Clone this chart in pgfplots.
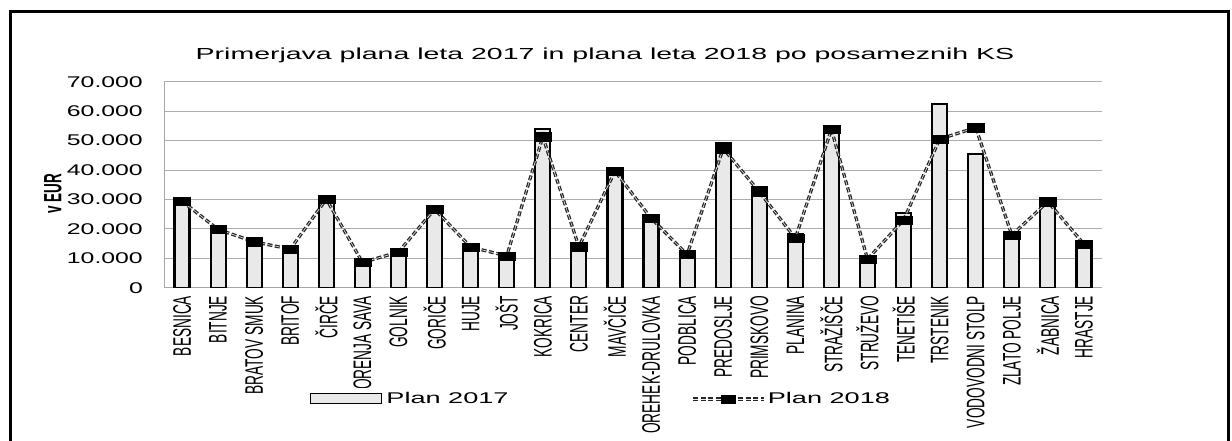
\documentclass[border=0pt]{standalone}
\usepackage{fontspec}
\setmainfont{Liberation Sans}
\usepackage{graphicx}
\usepackage{pgfplots}
\usepackage{pgfplotstable}
\pgfplotsset{compat=1.18}

% plan 2017 (stolpci) in plan 2018 (crta) po KS, v EUR
\pgfplotstableread[col sep=comma]{
idx,p17,p18
0,29000,29400
1,19500,19800
2,15300,15600
3,13000,13100
4,30300,30100
5,8800,8600
6,12200,12100
7,27000,26700
8,14000,13800
9,11000,10800
10,53900,51300
11,14200,13900
12,40500,39600
13,24500,23600
14,11800,11300
15,49200,47300
16,34300,32600
17,18100,16800
18,55000,53800
19,10000,9700
20,25300,23000
21,62400,50500
22,45300,54400
23,18500,17900
24,30000,29200
25,15500,14800
}\plandata

\newcommand\T[1]{\scalebox{1}[1.85]{#1}}
\newcommand\W[1]{\scalebox{1.6}[1]{#1}}
\tikzset{dline/.style={draw=gray!30!black, line width=1.3bp, double=gray!15, double distance=0.6bp,
  dash pattern=on 5bp off 2.5bp}}

\begin{document}
\begin{tikzpicture}
\useasboundingbox (0,0) rectangle (1232bp,441bp);
\clip (0,0) rectangle (1232bp,441bp);
\fill[white] (0,0) rectangle (1232bp,441bp);
\draw[line width=3bp] (10bp,-5bp) -- (10bp,429.3bp) -- (1228.5bp,429.3bp) -- (1228.5bp,-5bp);

\node[anchor=base] at (605bp,381bp)
  {\fontsize{16bp}{18bp}\selectfont\scalebox{1.78}[1]{Primerjava plana leta 2017 in plana leta 2018 po posameznih KS}};
\node[rotate=90] at (53bp,247bp) {\fontsize{13.5bp}{15bp}\selectfont\bfseries\T{v EUR}};

\begin{axis}[
  at={(164bp,153.3bp)}, anchor=south west,
  scale only axis, width=938bp, height=206bp,
  xmin=-0.5, xmax=25.5, ymin=0, ymax=70000,
  axis lines=left, axis line style={-, gray!70, line width=0.8bp},
  major tick length=0pt,
  ymajorgrids, grid style={gray!65, line width=0.8bp},
  ytick={0,10000,...,70000},
  scaled y ticks=false,
  /pgf/number format/.cd, 1000 sep={.}, assume math mode=true, /pgfplots/.cd,
  yticklabel={\W{\pgfmathprintnumber{\tick}}},
  yticklabel shift=21bp,
  yticklabel style={anchor=east, inner sep=0pt, font=\fontsize{15.5bp}{17bp}\selectfont},
  xtick={0,...,25},
  xticklabels={\T{BESNICA},\T{BITNJE},\T{BRATOV SMUK},\T{BRITOF},\T{ČIRČE},
    \T{GORENJA SAVA},\T{GOLNIK},\T{GORIČE},\T{HUJE},\T{JOŠT},\T{KOKRICA},
    \T{CENTER},\T{MAVČIČE},\T{OREHEK-DRULOVKA},\T{PODBLICA},\T{PREDOSLJE},
    \T{PRIMSKOVO},\T{PLANINA},\T{STRAŽIŠČE},\T{STRUŽEVO},\T{TENETIŠE},
    \T{TRSTENIK},\T{VODOVODNI STOLP},\T{ZLATO POLJE},\T{ŽABNICA},\T{HRASTJE}},
  xticklabel shift=8bp,
  xticklabel style={rotate=90, anchor=east, inner sep=0pt, font=\fontsize{13.7bp}{15bp}\selectfont},
  legend style={at={(axis description cs:0.1525,-0.54)}, anchor=west,
    draw=none, fill=none, inner sep=0bp, legend columns=2,
    font=\fontsize{15.5bp}{17bp}\selectfont,
    nodes={inner sep=2bp},
    /tikz/every even column/.append style={column sep=181bp}},
  legend cell align=left,
]
\addplot[ybar, bar width=15bp, draw=black, line width=2.2bp, fill=gray!17,
  legend image code/.code={
    \fill[white] (-2bp,-10bp) rectangle (73bp,10bp);
    \draw[draw=black, line width=1bp, fill=gray!17] (0bp,-5bp) rectangle (71bp,5bp);}]
  table[x=idx, y=p17] {\plandata};
\addlegendentry{\scalebox{1.75}[1]{Plan 2017}}

\addplot[forget plot, dline, no markers]
  table[x=idx, y=p18] {\plandata};
\addplot[forget plot, only marks, mark=square*, mark size=4.2bp,
  mark options={draw=black, fill=black, xscale=2}]
  table[x=idx, y=p18] {\plandata};

\addlegendimage{legend image code/.code={
  \draw[dline] (0bp,0bp) -- (71bp,0bp);
  \fill[black] (28bp,-4bp) rectangle (42bp,4bp);}}
\addlegendentry{\scalebox{1.75}[1]{Plan 2018}}
\end{axis}
\end{tikzpicture}
\end{document}
